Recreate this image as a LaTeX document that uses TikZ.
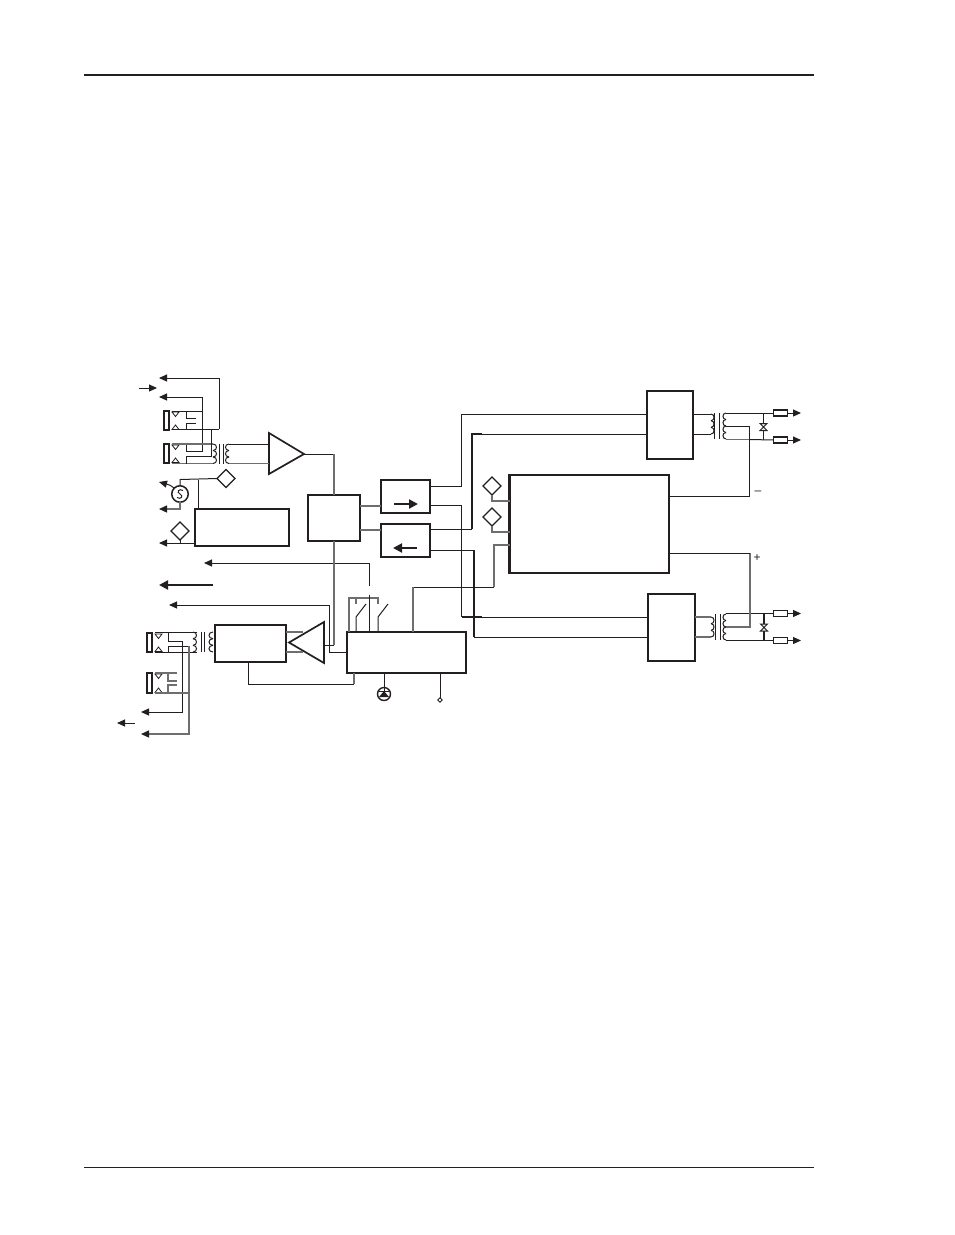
\documentclass[tikz,border=0pt]{standalone}
\usepackage{fontspec}
\setmainfont{Liberation Sans}
\usetikzlibrary{arrows.meta,calc,shapes.geometric}
\definecolor{ink}{HTML}{231F20}
\definecolor{wgray}{HTML}{6E6E6E}
\tikzset{
  tipfill/.tip={Triangle[length=8pt,width=7pt,color=ink]},
  wire/.style={line width=1pt,draw=ink},
  gwire/.style={line width=1.2pt,draw=wgray},
  hwire/.style={line width=1.9pt,draw=ink},
  arrow/.style={wire,-tipfill},
  garrow/.style={gwire,-tipfill},
  harrow/.style={line width=2pt,draw=ink,-{Triangle[length=9pt,width=9pt,color=ink]}},
  blockbox/.style={draw=ink,line width=1.8pt,rectangle,inner sep=0pt,outer sep=0pt},
  mainbox/.style={draw=ink,line width=2.4pt,rectangle,inner sep=0pt,outer sep=0pt},
  resbox/.style={draw=ink,line width=1.1pt,fill=white,rectangle,inner sep=0pt,outer sep=0pt,minimum width=14pt,minimum height=6pt},
  diam/.style={draw=ink,line width=1.3pt,fill=white,shape=diamond,aspect=1,inner sep=0pt,outer sep=0pt,minimum size=18pt},
  amp/.style={draw=ink,line width=1.7pt,line join=miter},
  contact/.style={draw=ink,line width=0.8pt,fill=white},
  rule/.style={draw=ink},
  sign/.style={inner sep=0pt,outer sep=0pt,font=\fontsize{12}{12}\selectfont,text=ink}
}
% named box from corners
\newcommand{\boxnode}[6]{%
  \node[#1,minimum width={(#5-#3)*1pt},minimum height={(#6-#4)*1pt}] (#2) at ({(#3+#5)/2},{(#4+#6)/2}) {};}
% coil: x of cusp, top y, bottom y, bulge, bumps
\newcommand{\coilpath}[6][wire]{%
  \pgfmathsetmacro{\coilstep}{(#4-#3)/#6}%
  \foreach \ci in {1,...,#6}{%
    \draw[#1] ({#2},{#3+(\ci-1)*\coilstep}) .. controls +({1.33*#5},0) and ({#2+1.33*#5},{#3+\ci*\coilstep}) .. ({#2},{#3+\ci*\coilstep});}}
% jack sleeve and two contacts
\newcommand{\jackbits}[4]{% name, x, y1, y2
  \node[draw=ink,line width=1.1pt,rectangle,inner sep=0pt,outer sep=0pt,minimum width=5pt,minimum height={(#4-#3)*1pt}] (#1) at ({#2+2.5},{(#3+#4)/2}) {};
  \draw[contact] ({#2+8},{#3+1}) -- ({#2+15},{#3+1}) -- ({#2+11.5},{#3+5.5}) -- cycle;
  \draw[contact] ({#2+8},{#4-.5}) -- ({#2+15},{#4-.5}) -- ({#2+11.5},{#4-5}) -- cycle;}
\begin{document}
\begin{tikzpicture}[x=1pt,y=-1pt]
\useasboundingbox (0,0) rectangle (954,1235);
% page rules
\coordinate (ruleTL) at (84,74.5); \coordinate (ruleTR) at (814,74.5);
\coordinate (ruleBL) at (84,1167); \coordinate (ruleBR) at (814,1167);
\draw[rule,line width=2pt] (ruleTL) -- (ruleTR);
\draw[rule,line width=1pt] (ruleBL) -- (ruleBR);

% blocks
\boxnode{blockbox}{hyb}{195}{509}{289}{546}
\boxnode{blockbox}{cen}{308}{495}{360}{541}
\boxnode{blockbox}{txa}{381}{480}{430}{513}
\boxnode{blockbox}{txb}{381}{524}{430}{557}
\boxnode{mainbox}{mainb}{509.5}{475}{669}{573}
\boxnode{blockbox}{xfa}{647}{391}{693}{459}
\boxnode{blockbox}{xfb}{648}{594}{695}{661}
\boxnode{blockbox}{rcv}{215}{625}{286}{662}
\boxnode{mainbox}{ctl}{347}{632}{466}{673}

% amplifiers
\coordinate (ampAw) at (269,454); \coordinate (ampAe) at (304,454);
\coordinate (ampBw) at (289,642.5); \coordinate (ampBe) at (324,642.5);
\draw[amp] (269,433) -- (269,474) -- (ampAe) -- cycle;
\draw[amp] (324,622) -- (324,663) -- (ampBw) -- cycle;

% upper-left jacks
\jackbits{j1}{164}{411}{430}
\jackbits{j2}{164}{444}{463}
\coordinate (ta1) at (159,378); \coordinate (ta2) at (159,397);
\draw[arrow] (219,429) -- (219,378) -- (ta1);
\draw[wire] (172,429.5) -- (219,429.5);
\draw[arrow] (172,411) -- (202,411) -- (202,397) -- (ta2);
\draw[wire] (202,411) -- (202,451) -- (186,451) -- (186,444);
\draw[gwire] (172,444) -- (213,444);
\draw[gwire] (172,463.5) -- (213,463.5);
\draw[wire] (186,463.5) -- (186,456) -- (211,456) -- (211,429.5);
\draw[wire] (186,411) -- (186,418) -- (196,418);
\draw[wire] (186,429.5) -- (186,423) -- (196,423);
\coordinate (sm1s) at (139,388); \coordinate (sm1e) at (157,388);
\draw[arrow] (sm1s) -- (sm1e);
% transformer 1
\coilpath{213}{444}{463.5}{3.5}{3}
\draw[wire] (219,444) -- (219,463.5); \draw[wire] (223,444) -- (223,463.5);
\coilpath{229}{444}{463.5}{-3.5}{3}
\draw[wire] (229,444) -- (269,444);
\draw[gwire] (229,463.5) -- (269,463.5);
\draw[wire] (ampAe) -- (334,454);
\draw[gwire] (334,454) -- (cen.north -| 334,0);

% sense source and diamonds
\node[draw=ink,line width=1.5pt,circle,inner sep=0pt,outer sep=0pt,minimum size=16.5pt] (src) at (180,494) {};
\draw[wire] (183,490.5) .. controls (179,488) and (176,492) .. (180,494) .. controls (184,496) and (181,500) .. (177,497.5);
\node[diam] (d1) at (226,478.5) {};
\node[diam] (d2) at (180,531) {};
\draw[wire] (src.north) -- (180,479.5) -- (d1.west);
\draw[wire] (198,479.5) -- (198,509);
\coordinate (ta3) at (159,482); \coordinate (ta4) at (159,509); \coordinate (ta5) at (159,543);
\draw[arrow] (src.north west) .. controls (170,485) .. (ta3);
\draw[garrow] (src.south) -- (180,509) -- (ta4);
\draw[arrow] (hyb.west |- 0,543) -- (ta5);
\draw[wire] (d2.south) -- (180,543);

% central connections
\draw[gwire] (cen.east |- 0,506) -- (txa.west |- 0,506);
\draw[gwire] (cen.east |- 0,530) -- (txb.west |- 0,530);
\coordinate (a1s) at (394,504); \coordinate (a1e) at (418,504);
\coordinate (a2s) at (417,548); \coordinate (a2e) at (393,548);
\draw[harrow] (a1s) -- (a1e);
\draw[harrow] (a2s) -- (a2e);
% tx to line transformers
\draw[wire] (txa.east |- 0,486) -- (461.5,486) -- (461.5,414) -- (xfa.west |- 0,414);
\draw[hwire] (472,529) -- (472,434) -- (482,434);
\draw[wire] (txb.east |- 0,529) -- (472,529);
\draw[wire] (482,434) -- (xfa.west |- 0,434);
\draw[wire] (txa.east |- 0,505) -- (461.5,505) -- (461.5,617);
\draw[hwire] (461.5,617) -- (482,617);
\draw[wire] (482,617) -- (xfb.west |- 0,617);
\draw[wire] (txb.east |- 0,550) -- (474,550);
\draw[hwire] (474,550) -- (474,637);
\draw[wire] (474,637) -- (xfb.west |- 0,637);

% main block diamonds
\node[diam] (d3) at (492,486) {};
\node[diam] (d4) at (492,517) {};
\draw[gwire] (d3.south) -- (492,501) -- (mainb.west |- 0,501);
\draw[gwire] (d4.south) -- (492,532) -- (mainb.west |- 0,532);
\draw[gwire] (mainb.west |- 0,545) -- (494,545) -- (494,587);
\draw[wire] (494,587) -- (413,587);
\draw[gwire] (413,587) -- (ctl.north -| 413,0);

% left middle arrows
\coordinate (ta6) at (204,563); \coordinate (ta7) at (159,585); \coordinate (ta7s) at (213,585); \coordinate (ta8) at (169,605);
\draw[arrow] (369,586) -- (369,563) -- (ta6);
\draw[harrow] (ta7s) -- (ta7);
\draw[arrow] (ctl.west |- 0,652) -- (329,652) -- (329,605) -- (ta8);
\draw[gwire] (cen.south -| 334,0) -- (334,645);
\draw[wire] (334,645) -- (324,645);

% switches
\draw[gwire] (349,632) -- (349,598) -- (378,598) -- (378,604);
\draw[gwire] (356,598) -- (356,604);
\draw[wire] (369,595) -- (369,632);
\draw[wire] (356,632) -- (356,617) -- (366,604);
\draw[wire] (378,632) -- (378,617) -- (388,604);

% diode and test point
\node[draw=ink,line width=1.4pt,circle,inner sep=0pt,outer sep=0pt,minimum size=13pt] (dio) at (384,694) {};
\draw[wire] (ctl.south -| 384,0) -- (dio.center);
\fill[ink] (379,697) -- (389,697) -- (384,691) -- cycle;
\draw[wire] (379,691) -- (389,691);
\node[draw=ink,line width=1pt,fill=white,shape=diamond,aspect=1,inner sep=0pt,outer sep=0pt,minimum size=4.5pt] (tp) at (440,700) {};
\draw[wire] (ctl.south -| 440,0) -- (tp.north);

% receive side
\jackbits{j3}{147}{633}{652}
\jackbits{j4}{147}{673}{693}
\coordinate (ta9) at (141,712); \coordinate (ta10) at (141,734);
\coordinate (sm2s) at (135,723); \coordinate (sm2e) at (117,723);
\draw[arrow] (sm2s) -- (sm2e);
\draw[wire] (155,632) -- (197,632);
\draw[wire] (155,652) -- (197,652);
\draw[wire] (168,632) -- (168,641) -- (182,641);
\draw[arrow] (182,641) -- (182,712) -- (ta9);
\draw[wire] (168,652) -- (168,646) -- (189,646);
\draw[garrow] (189,646) -- (189,734) -- (ta10);
\draw[gwire] (155,673) -- (177,673);
\draw[gwire] (168,673) -- (168,681) -- (177,681);
\draw[gwire] (177,685) -- (168,685) -- (168,693);
\draw[gwire] (155,693) -- (189,693);
% transformer 3
\coilpath{193}{632}{652}{3.5}{3}
\draw[wire] (201,632) -- (201,652); \draw[wire] (204.5,632) -- (204.5,652);
\coilpath{213}{632}{652}{-4}{3}
\draw[gwire] (rcv.east |- 0,632) -- (303,632);
\draw[gwire] (rcv.east |- 0,652) -- (303,652);
\draw[wire] (rcv.south -| 248,0) -- (248,684);
\draw[wire] (248,684) -- (354,684);
\draw[gwire] (354,684) -- (ctl.south -| 354,0);

% line transformer A
\draw[wire] (xfa.east |- 0,414) -- (711,414);
\draw[wire] (xfa.east |- 0,434) -- (711,434);
\coilpath{711}{414}{434}{3}{3}
\draw[wire] (714,413) -- (714,439); \draw[wire] (719,413) -- (719,439);
\coilpath{726}{413}{426}{-3}{2}
\coilpath{726}{426}{439}{-3}{2}
\node[resbox] (ra1) at (780.5,413) {};
\node[resbox] (ra2) at (780.5,440) {};
\coordinate (oa1) at (801,413); \coordinate (oa2) at (801,440);
\draw[wire] (726,413) -- (ra1.west);
\draw[gwire,line width=1.4pt] (726,439.5) -- (750,439.5);
\draw[wire] (750,439.5) -- (ra2.west);
\draw[wire] (763.5,413) -- (763.5,439.5);
\draw[arrow] (ra1.east) -- (oa1);
\draw[arrow] (ra2.east) -- (oa2);
\draw[wire] (726,426.5) -- (749.5,426.5);
\draw[wire] (749.5,426.5) -- (749.5,496);
\draw[wire] (mainb.east |- 0,496) -- (749.5,496);
\draw[contact,fill=ink!10,line width=1pt] (760,423.5) -- (767,423.5) -- (760,430.5) -- (767,430.5) -- cycle;
\node[sign] (minus) at (758,493) {–};

% line transformer B
\draw[gwire] (xfb.east |- 0,617) -- (711,617);
\draw[gwire] (xfb.east |- 0,637) -- (711,637);
\coilpath{711}{617}{637}{3}{3}
\draw[wire] (715,614) -- (715,640); \draw[wire] (720,614) -- (720,640);
\coilpath{726}{614}{627}{-3}{2}
\coilpath{726}{627}{640}{-3}{2}
\node[resbox] (rb1) at (780.5,613.5) {};
\node[resbox] (rb2) at (780.5,640.5) {};
\coordinate (ob1) at (801,613.5); \coordinate (ob2) at (801,640.5);
\draw[wire] (726,613.5) -- (rb1.west);
\draw[wire] (726,640.5) -- (rb2.west);
\draw[hwire,line width=1.2pt] (764,613.5) -- (764,640.5);
\draw[arrow] (rb1.east) -- (ob1);
\draw[arrow] (rb2.east) -- (ob2);
\draw[gwire] (726,627) -- (750,627) -- (750,553);
\draw[wire] (mainb.east |- 0,553) -- (750,553);
\draw[contact,fill=ink!10,line width=1pt] (760.5,624) -- (767.5,624) -- (760.5,631) -- (767.5,631) -- cycle;
\node[sign] (plus) at (757,558) {+};
\end{tikzpicture}
\end{document}
